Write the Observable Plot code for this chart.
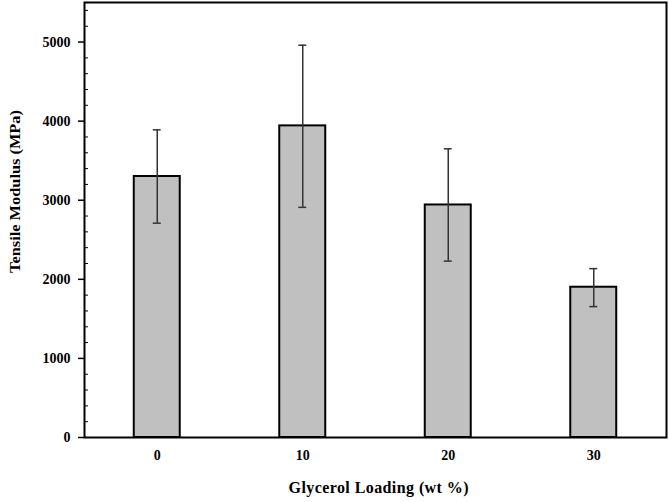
<!DOCTYPE html>
<html>
<head>
<meta charset="utf-8">
<script src="https://cdn.jsdelivr.net/npm/d3@7"></script>
<script src="https://cdn.jsdelivr.net/npm/@observablehq/plot@0.6"></script>
<style>
  html, body { margin: 0; padding: 0; background: #fff; }
  #chart svg { display: block; }
</style>
</head>
<body>
<div id="chart"></div>
<script>
const loadings = ["0", "10", "20", "30"];
const modulus = [3300, 3940, 2940, 1900];
const errLow = [2710, 2910, 2230, 1655];
const errHigh = [3890, 4960, 3650, 2135];
const yMajorTicks = [0, 1000, 2000, 3000, 4000, 5000];
const yMinorTicks = d3.range(0, 5501, 200).filter(v => v % 1000 !== 0);
const yTitle = "Tensile Modulus (MPa)";
const xTitle = "Glycerol Loading (wt %)";

const data = loadings.map((l, i) => ({loading: l, value: modulus[i], lo: errLow[i], hi: errHigh[i]}));

const font = "'Liberation Serif', 'Times New Roman', serif";

const chart = Plot.plot({
  width: 669,
  height: 502,
  marginLeft: 84,
  marginRight: 3,
  marginTop: 2,
  marginBottom: 65,
  style: {fontFamily: font, fontSize: "14px", fontWeight: "bold", color: "#000", background: "#fff"},
  x: {domain: loadings, paddingInner: 0.684, paddingOuter: 0.342, round: false},
  y: {domain: [0, 5500]},
  marks: [
    Plot.barY(data, {x: "loading", y: "value", fill: "#c0c0c0", stroke: "#000", strokeWidth: 2}),
    Plot.ruleX(data, {x: "loading", y1: "lo", y2: "hi", stroke: "#333", strokeWidth: 1.5}),
    Plot.tickY(data, {x: "loading", y: "lo", stroke: "#333", strokeWidth: 1.5, insetLeft: 19, insetRight: 19}),
    Plot.tickY(data, {x: "loading", y: "hi", stroke: "#333", strokeWidth: 1.5, insetLeft: 19, insetRight: 19}),
    Plot.axisY({ticks: yMajorTicks, tickFormat: d3.format("d"), tickSize: 6, tickPadding: 8, label: null, fontWeight: "bold", strokeWidth: 1.5}),
    Plot.axisY({ticks: yMinorTicks, tickSize: -4, text: null, label: null, strokeWidth: 1}),
    Plot.axisX({tickSize: 0, tickPadding: 13, label: null, fontWeight: "bold"}),
    Plot.frame({stroke: "#000", strokeWidth: 2}),
    Plot.text([yTitle], {frameAnchor: "left", rotate: -90, textAnchor: "start", dx: -69, dy: 53, fontSize: 15, fontWeight: "bold", className: "ytitle"}),
    Plot.text([xTitle], {frameAnchor: "bottom", dy: 55, dx: 3, fontSize: 16, fontWeight: "bold", className: "xtitle"})
  ]
});
d3.select(chart).selectAll(".ytitle text").attr("textLength", 163).attr("lengthAdjust", "spacingAndGlyphs");
d3.select(chart).selectAll(".xtitle text").attr("textLength", 180).attr("lengthAdjust", "spacing");
document.getElementById("chart").appendChild(chart);
</script>
</body>
</html>
